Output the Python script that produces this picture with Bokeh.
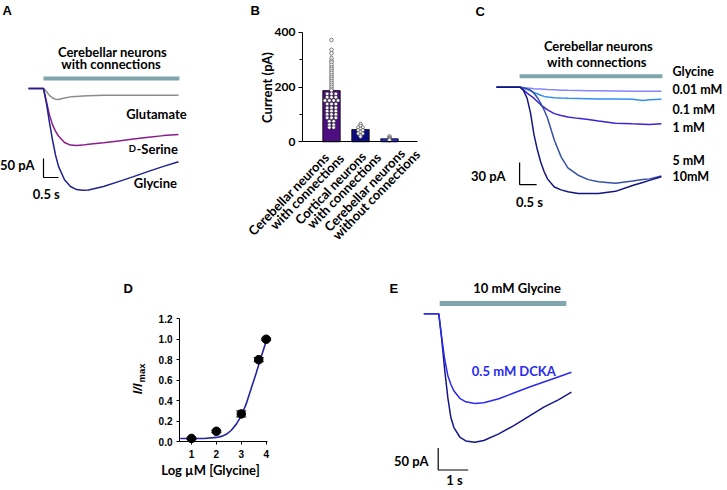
from math import pi
from bokeh.plotting import figure
from bokeh.layouts import row, column
from bokeh.models import (Range1d, FixedTicker, Whisker, ColumnDataSource, NumeralTickFormatter,
                          LinearAxis)
from bokeh.embed import file_html
from bokeh.resources import INLINE
from bokeh.core.properties import value

# ---------------- Panel A data (time s, current pA) ----------------
a_time = [0, 0.5, 0.6, 0.7, 0.8, 0.9, 1.0, 1.2, 1.4, 1.6, 1.8, 2.0, 2.5, 3.0, 3.5, 4.0, 4.5, 5.0]
a_glycine = [0, 0, -40, -90, -135, -175, -205, -240, -258, -266, -268, -267, -258, -245, -232, -218, -205, -193]
a_dserine = [0, 0, -35, -70, -95, -112, -125, -142, -149, -150, -149, -147, -143, -138, -133, -128, -124, -121]
a_glutamate = [0, 0, -8, -18, -25, -28, -29, -25, -22, -21, -20, -19, -18, -18, -18, -18, -18, -18]
a_app = [0.5, 5.03]
a_scale = [50, 0.5]  # pA, s

# ---------------- Panel B data ----------------
b_label_l1 = ["Cerebellar neurons", "Cortical neurons", "Cerebellar neurons"]
b_label_l2 = ["with connections", "with connections", "without connections"]
b_means = [187, 45, 11]
b_pts1 = [372, 336, 323, 306, 296, 290, 281, 272, 266, 258, 251, 243, 236, 229, 222, 215, 208, 201, 194, 188,
          175, 175, 175, 163, 163, 163, 151, 151, 151, 151, 138, 138, 138, 124, 124, 124,
          112, 112, 112, 100, 100, 100, 88, 88, 88, 75, 75, 62, 62, 52, 52]
b_pts2 = [65, 58, 52, 52, 47, 42, 42, 36, 30, 30, 24, 19]
b_pts3 = [20, 15, 12, 9, 6]
b_yticks = [0, 200, 400]
b_yminor = [100, 300]

# ---------------- Panel C data ----------------
c_time = [0, 0.7, 0.8, 0.9, 1.0, 1.1, 1.2, 1.3, 1.4, 1.5, 1.7, 1.9, 2.1, 2.4, 2.7, 3.0, 3.5, 4.0, 4.3, 4.5, 4.85]
c_001 = [0, 0, -0.5, -1, -1.5, -2, -2.3, -2.6, -2.9, -3.2, -3.6, -4, -4.3, -4.6, -4.9, -5, -5.2, -5.4, -5.5, -5.5, -5.5]
c_01 = [0, 0, -1.5, -3, -5, -7, -9, -11, -12.5, -13.5, -14.3, -14.8, -15.1, -15.4, -15.7, -16, -16.2, -16.5, -18, -17, -16.5]
c_1 = [0, 0, -4, -8, -11.5, -15, -19.5, -24, -27.5, -31, -36, -38.5, -40.5, -42.5, -44, -46, -49, -50, -50.5, -51, -50]
c_5 = [0, 0, -1, -2, -4, -8, -14, -22, -31, -42, -72, -95, -110, -120, -126, -129, -131, -128, -126, -125, -121]
c_10 = [0, 0, -5, -15, -35, -64, -85, -102, -115, -125, -136, -140, -142.5, -145, -145, -145, -142, -134, -130, -127, -122]
c_names = ["0.01 mM", "0.1 mM", "1 mM", "5 mM", "10mM"]
c_app = [0.68, 4.88]
c_scale = [30, 0.5]

# ---------------- Panel D data ----------------
d_logc = [1, 2, 3, 3.7, 4]
d_resp = [0.03, 0.10, 0.27, 0.80, 1.00]
d_err = [0.01, 0.01, 0.03, 0.02, 0.01]
d_fit_x = [0.55, 1.0, 1.5, 2.0, 2.2, 2.4, 2.6, 2.8, 3.0, 3.2, 3.4, 3.6, 3.8, 4.0]
d_fit_y = [0.03, 0.03, 0.03, 0.04, 0.05, 0.07, 0.11, 0.17, 0.25, 0.37, 0.52, 0.67, 0.83, 0.98]
d_xticks = [1, 2, 3, 4]
d_yticks = [0, 0.2, 0.4, 0.6, 0.8, 1.0, 1.2]

# ---------------- Panel E data ----------------
e_time = [0, 0.5, 0.6, 0.7, 0.8, 0.9, 1.0, 1.2, 1.4, 1.7, 2.0, 2.5, 3.0, 3.5, 4.0, 4.5, 4.92]
e_ctrl = [0, 0, -60, -130, -190, -235, -258, -280, -289, -292, -288, -273, -254, -233, -212, -195, -178]
e_dcka = [0, 0, -55, -105, -140, -160, -175, -192, -200, -204, -202, -193, -180, -167, -155, -143, -133]
e_app = [0.53, 4.75]
e_scale = [50, 1.0]

TEAL = "#7FA5AD"
FONT = "Lato"
LETTER_FONT = "Liberation Sans"
TS = "13px"


def blank(w, h, xr, yr):
    p = figure(width=w, height=h, x_range=Range1d(*xr), y_range=Range1d(*yr),
               output_backend="svg", toolbar_location=None, min_border=0, title=None,
               x_axis_location=None, y_axis_location=None)
    p.grid.visible = False
    p.outline_line_color = None
    try:
        p.frame_align = False
    except Exception:
        pass
    return p


def txt(p, x, y, s, size=TS, color="black", align="left", baseline="middle",
        font=FONT, style="bold", angle=0.0):
    p.text(x=[x], y=[y], text=[s], text_font=value(font), text_font_size=value(size),
           text_font_style=style, text_color=color, text_align=align, text_baseline=baseline,
           angle=angle)


def scalebar(p, t0, y0, amp, dur):
    p.line([t0, t0, t0 + dur], [y0 + amp, y0, y0], line_color="black", line_width=1.2)


def style_axis(ax, font, size):
    ax.major_label_text_font = font
    ax.major_label_text_font_style = "bold"
    ax.major_label_text_font_size = size
    ax.major_label_text_color = "black"
    ax.axis_line_color = "black"
    ax.major_tick_line_color = "black"
    ax.minor_tick_line_color = "black"
    ax.major_tick_in = 0
    ax.minor_tick_in = 0


# ---------------- Panel A ----------------
pA = blank(200, 265, (-0.9333, 5.7333), (-465.8, 231.6))
pA.segment(x0=[a_app[0]], y0=[26.3], x1=[a_app[1]], y1=[26.3], line_color=TEAL, line_width=4)
pA.line(a_time, a_glutamate, line_color="#8C8C8C", line_width=1.5)
pA.line(a_time, a_dserine, line_color="#8B1C8C", line_width=1.5)
pA.line(a_time, a_glycine, line_color="#20208E", line_width=1.5)
txt(pA, -0.867, 224, "A", size="13px", font=LETTER_FONT, baseline="top")
txt(pA, 2.8, 95.5, "Cerebellar neurons", align="center")
txt(pA, 2.75, 63.2, "with connections", align="center")
txt(pA, 3.257, -66.6, "Glutamate")
txt(pA, 3.343, -157.0, "D", size="9.5px")
txt(pA, 3.6, -157.9, "-Serine")
txt(pA, 3.51, -249.2, "Glycine")
scalebar(pA, a_app[0], -234.2, a_scale[0], a_scale[1])
txt(pA, 0.2, -200.8, "50 pA", align="right")
txt(pA, 0.593, -277.1, "0.5 s", align="center")

# ---------------- Panel B ----------------
pB = blank(228, 265, (-4.517, 3.345), (-451.9, 516.2))
pB.vbar(x=[0, 1, 2], top=b_means, width=0.6, fill_color=["#4C0E80", "#0C0C7E", "#2B2BE0"],
        line_color="black", line_width=0.8)


def swarm(vals, center, step=0.15):
    xs = []
    for i, v in enumerate(vals):
        n = vals.count(v)
        k = vals[:i].count(v)
        xs.append(center + (k - (n - 1) / 2) * step)
    return xs


for i, pts in enumerate([b_pts1, b_pts2, b_pts3]):
    pB.scatter(swarm(pts, i), pts, size=3.6, fill_color="white", line_color="#333333", line_width=0.6)

yaxB = LinearAxis(fixed_location=-1.0, bounds=(0, 400),
                  ticker=FixedTicker(ticks=b_yticks, minor_ticks=b_yminor))
style_axis(yaxB, FONT, "12px")
yaxB.major_tick_out = 4
yaxB.minor_tick_out = 3
yaxB.major_label_standoff = 3
pB.add_layout(yaxB, "left")
xaxB = LinearAxis(fixed_location=0, bounds=(-1.0, 2.966), ticker=FixedTicker(ticks=[], minor_ticks=[]))
style_axis(xaxB, FONT, "12px")
pB.add_layout(xaxB, "below")
txt(pB, -2.24, 198.4, "Current (pA)", align="center", angle=pi / 2)

ang = 0.8
pB.text(x=[0, 1, 2], y=[0, 0, 0], text=b_label_l1, angle=ang, x_offset=[-5, 3, 13], y_offset=[13, 12, 9],
        text_font=value(FONT), text_font_size=value("13px"), text_font_style="bold",
        text_color="black", text_align="right", text_baseline="middle")
pB.text(x=[0, 1, 2], y=[0, 0, 0], text=b_label_l2, angle=ang, x_offset=[10, 18, 28], y_offset=[14, 13, 10],
        text_font=value(FONT), text_font_size=value("13px"), text_font_style="bold",
        text_color="black", text_align="right", text_baseline="middle")
txt(pB, -2.793, 505.3, "B", size="13px", font=LETTER_FONT, baseline="top")

# ---------------- Panel C ----------------
pC = blank(298, 265, (-2.0, 6.765), (-243.1, 118.2))
pC.segment(x0=[c_app[0]], y0=[15.0], x1=[c_app[1]], y1=[15.0], line_color=TEAL, line_width=4)
c_colors = ["#8585FF", "#2F8FF5", "#3F22D6", "#3550A8", "#151580"]
for ys, col in zip([c_001, c_01, c_1, c_5, c_10], c_colors):
    pC.line(c_time, ys, line_color=col, line_width=1.5)
txt(pC, -0.618, 112.8, "C", size="13px", font=LETTER_FONT, baseline="top")
txt(pC, 3.0, 55.5, "Cerebellar neurons", align="center")
txt(pC, 2.95, 33.7, "with connections", align="center")
txt(pC, 5.176, 21.4, "Glycine", size="12.5px")
for name, yy in zip(c_names, [-3.1, -30.4, -55, -100, -121.8]):
    txt(pC, 5.176, yy, name, size="12.5px")
scalebar(pC, c_app[0], -132.7, c_scale[0], c_scale[1])
txt(pC, 0.265, -120.4, "30 pA", align="right")
txt(pC, 0.97, -155.9, "0.5 s", align="center")

# ---------------- Panel D ----------------
pD = blank(300, 224, (-6.671, 5.378), (-0.4694, 1.7213))
pD.line(d_fit_x, d_fit_y, line_color="#2525A0", line_width=1.6)
srcD = ColumnDataSource(dict(x=d_logc, y=d_resp,
                             lo=[r - e for r, e in zip(d_resp, d_err)],
                             hi=[r + e for r, e in zip(d_resp, d_err)]))
pD.add_layout(Whisker(base="x", upper="hi", lower="lo", source=srcD, line_color="black", line_width=1))
pD.scatter("x", "y", source=srcD, size=8.5, color="black")
xaxD = LinearAxis(fixed_location=0, bounds=(0.518, 4.05), ticker=FixedTicker(ticks=d_xticks, minor_ticks=[]))
yaxD = LinearAxis(fixed_location=0.518, bounds=(0, 1.2), ticker=FixedTicker(ticks=d_yticks, minor_ticks=[]),
                  formatter=NumeralTickFormatter(format="0.0"))
for ax in (xaxD, yaxD):
    style_axis(ax, "Liberation Sans", "10px")
    ax.major_tick_out = 3
xaxD.major_label_standoff = 5
yaxD.major_label_standoff = 4
pD.add_layout(xaxD, "below")
pD.add_layout(yaxD, "left")
txt(pD, -1.731, 1.5746, "D", size="13px", font=LETTER_FONT, baseline="top")
txt(pD, 1.763, -0.274, "Log µM [Glycine]", align="center")
txt(pD, -1.149, 0.568, "I/I", size="13px", font="Liberation Sans", style="bold italic",
    align="right", angle=pi / 2)
txt(pD, -1.028, 0.577, "max", size="9.5px", font="Liberation Sans", angle=pi / 2)

# ---------------- Panel E ----------------
pE = blank(426, 224, (-4.110, 10.09), (-399.3, 109.8))
pE.segment(x0=[e_app[0]], y0=[23.4], x1=[e_app[1]], y1=[23.4], line_color=TEAL, line_width=5)
pE.line(e_time, e_ctrl, line_color="#16168A", line_width=1.5)
pE.line(e_time, e_dcka, line_color="#2A2AF0", line_width=1.5)
txt(pE, -1.143, 75.7, "E", size="13px", font=LETTER_FONT, baseline="top")
txt(pE, 3.11, 58.6, "10 mM Glycine", align="center")
txt(pE, 3.0, -128.9, "0.5 mM DCKA", align="center", color="#2A2AF0")
scalebar(pE, 0.48, -355, e_scale[0], e_scale[1])
txt(pE, 0.157, -335, "50 pA", align="right")
txt(pE, 1.023, -376.6, "1 s", align="center")

layout = column(row(pA, pB, pC), row(pD, pE))
open("out.html", "w").write(file_html(layout, INLINE))
